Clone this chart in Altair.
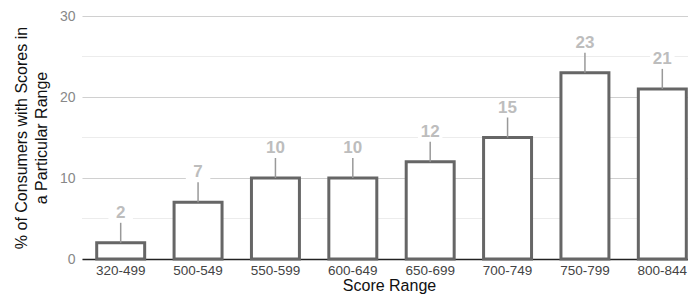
import altair as alt
import pandas as pd

categories = ["320-499", "500-549", "550-599", "600-649", "650-699", "700-749", "750-799", "800-844"]
values = [2, 7, 10, 10, 12, 15, 23, 21]
major_ticks = [0, 10, 20, 30]
minor_ticks = [5, 15, 25]

df = pd.DataFrame({"range": categories, "pct": values})
minor_df = pd.DataFrame({"v": minor_ticks})

FONT = "Liberation Sans"

x_enc = alt.X("range:N", sort=categories, title="Score Range",
              scale=alt.Scale(paddingInner=0.38, paddingOuter=0.19, range=[0, 619]),
              axis=alt.Axis(labelAngle=0, labelColor="#444", labelFontSize=13.5, labelFont=FONT,
                            ticks=False, domainColor="#222", domainWidth=1.5, labelPadding=4,
                            titleFont=FONT, titleFontSize=16, titleFontWeight="normal",
                            titleColor="#111", titlePadding=1, titleX=307))
y_enc = alt.Y("pct:Q", scale=alt.Scale(domain=[0, 30], nice=False),
              title=["% of Consumers with Scores in", "a Particular Range"],
              axis=alt.Axis(values=major_ticks, labelColor="#888", labelFontSize=14, labelFont=FONT,
                            ticks=False, domain=False, gridColor="#d0d0d0", gridWidth=1.2,
                            labelPadding=7, titleFont=FONT, titleFontSize=16,
                            titleFontWeight="normal", titleColor="#111", titlePadding=10,
                            titleLineHeight=20))

minor = alt.Chart(minor_df).mark_rule(color="#ececec", strokeWidth=1.2).encode(y=alt.Y("v:Q"))

bars = alt.Chart(df).mark_bar(fill="white", stroke="#666", strokeWidth=3).encode(x=x_enc, y=y_enc)

connector = alt.Chart(df).mark_rule(color="#999", strokeWidth=1.5, y2Offset=-20).encode(
    x=alt.X("range:N", sort=categories), y="pct:Q", y2="pct:Q")

label_bg = alt.Chart(df).mark_point(shape="M-1,-0.6H1V0.6H-1Z", filled=True, fill="white",
                                    opacity=1, size=600, yOffset=-30, strokeWidth=0).encode(
    x=alt.X("range:N", sort=categories), y="pct:Q")

labels = alt.Chart(df).mark_text(dy=-30, color="#bdbdbd", fontSize=17, fontWeight="bold",
                                 font=FONT, baseline="middle").encode(
    x=alt.X("range:N", sort=categories), y="pct:Q", text="pct:Q")

chart = alt.layer(minor, bars, connector, label_bg, labels).properties(
    width=606, height=243,
    autosize=alt.AutoSizeParams(type="none"),
    padding={"left": 74, "top": 8, "right": 0, "bottom": 36},
).configure_view(stroke=None)

chart.save("out.html", embed_options={"renderer": "svg", "actions": False})
